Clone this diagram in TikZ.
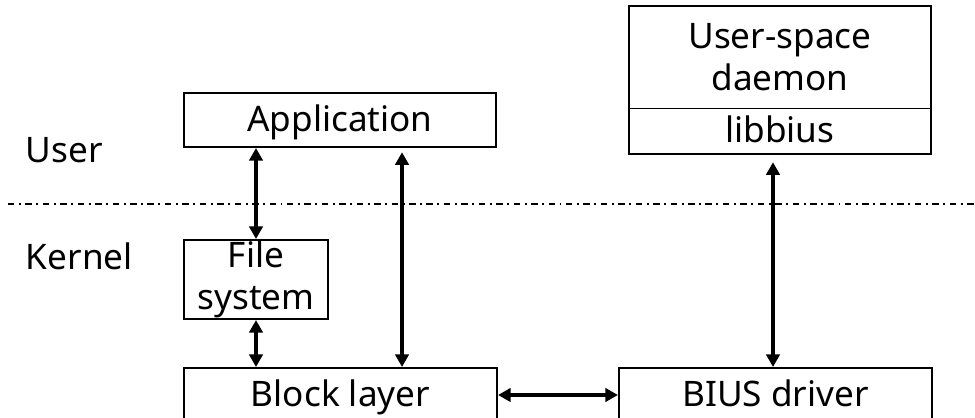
\documentclass[tikz,border=0pt]{standalone}
\usepackage{fontspec}
\setmainfont{Noto Sans}
\usetikzlibrary{arrows.meta}

\begin{document}
\begin{tikzpicture}[x=0.025cm,y=-0.025cm,
  every node/.style={font=\fontsize{25}{30}\selectfont},
  layer/.style={draw,line width=1.4pt,align=center,inner sep=0pt},
  oneline/.style={text height=19.5pt,text depth=3pt},
  link/.style={{Triangle[length=9pt,width=9.5pt]}-{Triangle[length=9pt,width=9.5pt]},line width=3.1pt}]
\useasboundingbox (0,0) rectangle (975,417);
% user / kernel boundary
\draw[line width=1.4pt,dash pattern=on 4.6pt off 3.2pt on 1.4pt off 3.2pt] (8,204) -- (975,204);
\node[anchor=west] (user) at (21,150) {User};
\node[anchor=west] (kernel) at (21,256) {Kernel};
% layers
\node[layer,oneline,minimum width=7.8cm,minimum height=1.35cm] (app) at (340,120) {Application};
\node[layer,minimum width=3.6cm,minimum height=1.975cm] (fs) at (256,279.5) {File\\system};
\node[layer,oneline,minimum width=7.825cm,minimum height=1.35cm] (block) at (340.5,395) {Block layer};
\node[layer,oneline,minimum width=7.825cm,minimum height=1.35cm] (bius) at (775.5,395) {BIUS driver};
\node[align=center,inner sep=0pt,minimum width=7.55cm,minimum height=2.55cm] (daemon) at (780,57) {User-space\\daemon};
\node[oneline,inner sep=0pt,minimum width=7.55cm,minimum height=1.125cm] (lib) at (780,131) {libbius};
\draw[line width=1.4pt] (daemon.north west) rectangle (lib.south east);
\draw[line width=0.8pt] (lib.north west) -- (lib.north east);
% paths
\draw[link] (fs.north |- app.south) -- (fs.north);
\draw[link] (fs.south) -- (fs.south |- block.north);
\draw[link,shorten <=3pt] ([xshift=1.55cm]app.south) -- ([xshift=1.55cm]app.south |- block.north);
\draw[link,shorten <=6pt] ([xshift=-0.175cm]lib.south) -- ([xshift=-0.175cm]lib.south |- bius.north);
\draw[link] (block.east) -- (bius.west);
\end{tikzpicture}
\end{document}
